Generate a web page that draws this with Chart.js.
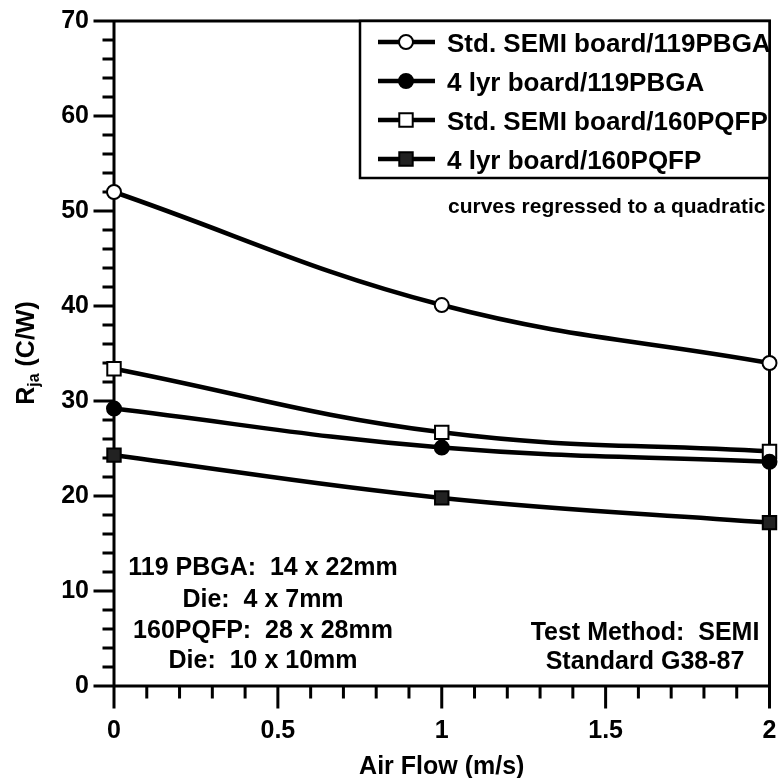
<!DOCTYPE html>
<html lang="en">
<head>
<meta charset="UTF-8"/>
<title>Rja vs Air Flow</title>
<script src="https://cdn.jsdelivr.net/npm/chart.js"></script>
<style>
  *{margin:0;padding:0;box-sizing:border-box}
  html,body{width:781px;height:778px;background:#fff;overflow:hidden}
  #wrap{position:relative;width:781px;height:778px}
</style>
</head>
<body>
<div id="wrap"><canvas id="c"></canvas></div>
<script>
// data (Air Flow in m/s, Rja in C/W)
const airFlow = [0, 1, 2];
const semi119 = [52.0, 40.1, 34.0];
const lyr119 = [29.2, 25.1, 23.6];
const semi160 = [33.4, 26.7, 24.7];
const lyr160 = [24.3, 19.8, 17.2];
const seriesNames = ['Std. SEMI board/119PBGA', '4 lyr board/119PBGA', 'Std. SEMI board/160PQFP', '4 lyr board/160PQFP'];
const fitNote = 'curves regressed to a quadratic';
const pkgNotes = ['119 PBGA:  14 x 22mm', 'Die:  4 x 7mm', '160PQFP:  28 x 28mm', 'Die:  10 x 10mm'];
const methodNotes = ['Test Method:  SEMI', 'Standard G38-87'];

const FONT = '"Liberation Sans", Arial, Helvetica, sans-serif';
const pts = ys => airFlow.map((x, i) => ({x, y: ys[i]}));

function mk(label, ys, style, radius, fill){
  return {label, data: pts(ys), borderColor:'#000', borderWidth:4.5,
    pointStyle:style, pointRadius:radius, pointBackgroundColor:fill,
    pointBorderColor:'#000', pointBorderWidth:2, tension:0.4, clip:false};
}

// axes frame + major/minor ticks, drawn off the scales
const frame = {
  id:'frame',
  beforeDatasetsDraw(chart){
    const {ctx, chartArea:a, scales:{x, y}} = chart;
    ctx.save();
    ctx.strokeStyle = '#000'; ctx.lineWidth = 3; ctx.lineCap = 'square';
    ctx.beginPath();
    ctx.moveTo(a.left, a.top); ctx.lineTo(a.left, a.bottom); ctx.lineTo(a.right, a.bottom);
    ctx.moveTo(a.left, a.top); ctx.lineTo(a.right, a.top); ctx.lineTo(a.right, a.bottom);
    for(let v = 0; v <= 70; v += 2){
      const py = y.getPixelForValue(v);
      ctx.moveTo(a.left - (v % 10 === 0 ? 19 : 10), py); ctx.lineTo(a.left, py);
    }
    for(let i = 0; i <= 20; i++){
      const px = x.getPixelForValue(i / 10);
      ctx.moveTo(px, a.bottom); ctx.lineTo(px, a.bottom + (i % 5 === 0 ? 21 : 11));
    }
    ctx.stroke();
    ctx.restore();
  },
  afterDraw(chart){
    const ctx = chart.ctx;
    ctx.save();
    ctx.fillStyle = '#000';
    // y title with subscript
    ctx.translate(25, 353); ctx.rotate(-Math.PI / 2);
    const big = 'bold 25px ' + FONT, small = 'bold 16px ' + FONT;
    ctx.font = big; const wR = ctx.measureText('R').width, wT = ctx.measureText(' (C/W)').width;
    ctx.font = small; const wS = ctx.measureText('ja').width;
    let sx = -(wR + wS + wT) / 2;
    ctx.textBaseline = 'alphabetic';
    ctx.font = big; ctx.fillText('R', sx, 9); sx += wR;
    ctx.font = small; ctx.fillText('ja', sx, 13.5); sx += wS;
    ctx.font = big; ctx.fillText(' (C/W)', sx, 9);
    ctx.restore();

    // legend box
    ctx.save();
    const bx = 360, by = 21, bw = chart.chartArea.right - 360, bh = 157;
    ctx.fillStyle = '#fff'; ctx.fillRect(bx, by, bw, bh);
    ctx.strokeStyle = '#000'; ctx.lineWidth = 2.5; ctx.strokeRect(bx, by, bw, bh);
    const base = [52, 91, 130, 169];
    chart.data.datasets.forEach((ds, i) => {
      const cy = base[i] - 10;
      ctx.strokeStyle = '#000'; ctx.lineWidth = 4.5; ctx.lineCap = 'butt';
      ctx.beginPath(); ctx.moveTo(378, cy); ctx.lineTo(435, cy); ctx.stroke();
      ctx.fillStyle = ds.pointBackgroundColor; ctx.lineWidth = ds.pointBorderWidth;
      Chart.helpers.drawPoint(ctx, {pointStyle: ds.pointStyle, radius: ds.pointRadius, rotation: 0, borderWidth: ds.pointBorderWidth}, 406, cy);
      ctx.fillStyle = '#000'; ctx.font = 'bold 26px ' + FONT; ctx.textAlign = 'left'; ctx.textBaseline = 'alphabetic';
      ctx.fillText(ds.label, 447, base[i]);
    });
    ctx.font = 'bold 21px ' + FONT;
    ctx.fillText(fitNote, 448, 213);
    ctx.font = 'bold 25px ' + FONT; ctx.textAlign = 'center';
    [575, 607, 638, 668].forEach((yy, i) => ctx.fillText(pkgNotes[i], 263, yy));
    [640, 669].forEach((yy, i) => ctx.fillText(methodNotes[i], 645, yy));
    ctx.restore();
  }
};

const noPad = s => { s.paddingLeft = 0; s.paddingRight = 0; s.paddingTop = 0; s.paddingBottom = 0; };

new Chart(document.getElementById('c'), {
  type:'line',
  data:{datasets:[
    mk(seriesNames[0], semi119, 'circle', 7, '#fff'),
    mk(seriesNames[1], lyr119, 'circle', 7, '#000'),
    mk(seriesNames[2], semi160, 'rect', 9.5, '#fff'),
    mk(seriesNames[3], lyr160, 'rect', 9.5, '#222')
  ]},
  options:{
    responsive:true, maintainAspectRatio:false, animation:false,
    layout:{padding:{top:21, right:7, left:0, bottom:0}},
    plugins:{legend:{display:false}, tooltip:{enabled:false}},
    scales:{
      x:{type:'linear', min:0, max:2,
        ticks:{stepSize:0.5, padding:30, color:'#000', font:{family:FONT, size:25, weight:'bold'}, callback: v => String(v)},
        grid:{display:false, drawTicks:false}, border:{display:false},
        title:{display:true, text:'Air Flow (m/s)', color:'#000', padding:{top:0, bottom:-4}, font:{family:FONT, size:25, weight:'bold'}},
        afterFit(s){ s.height = 92; noPad(s); }},
      y:{min:0, max:70,
        ticks:{stepSize:10, padding:25, color:'#000', font:{family:FONT, size:25, weight:'bold'}},
        grid:{display:false, drawTicks:false}, border:{display:false},
        afterFit(s){ s.width = 114; noPad(s); }}
    }
  },
  plugins:[frame]
});
</script>
</body>
</html>
